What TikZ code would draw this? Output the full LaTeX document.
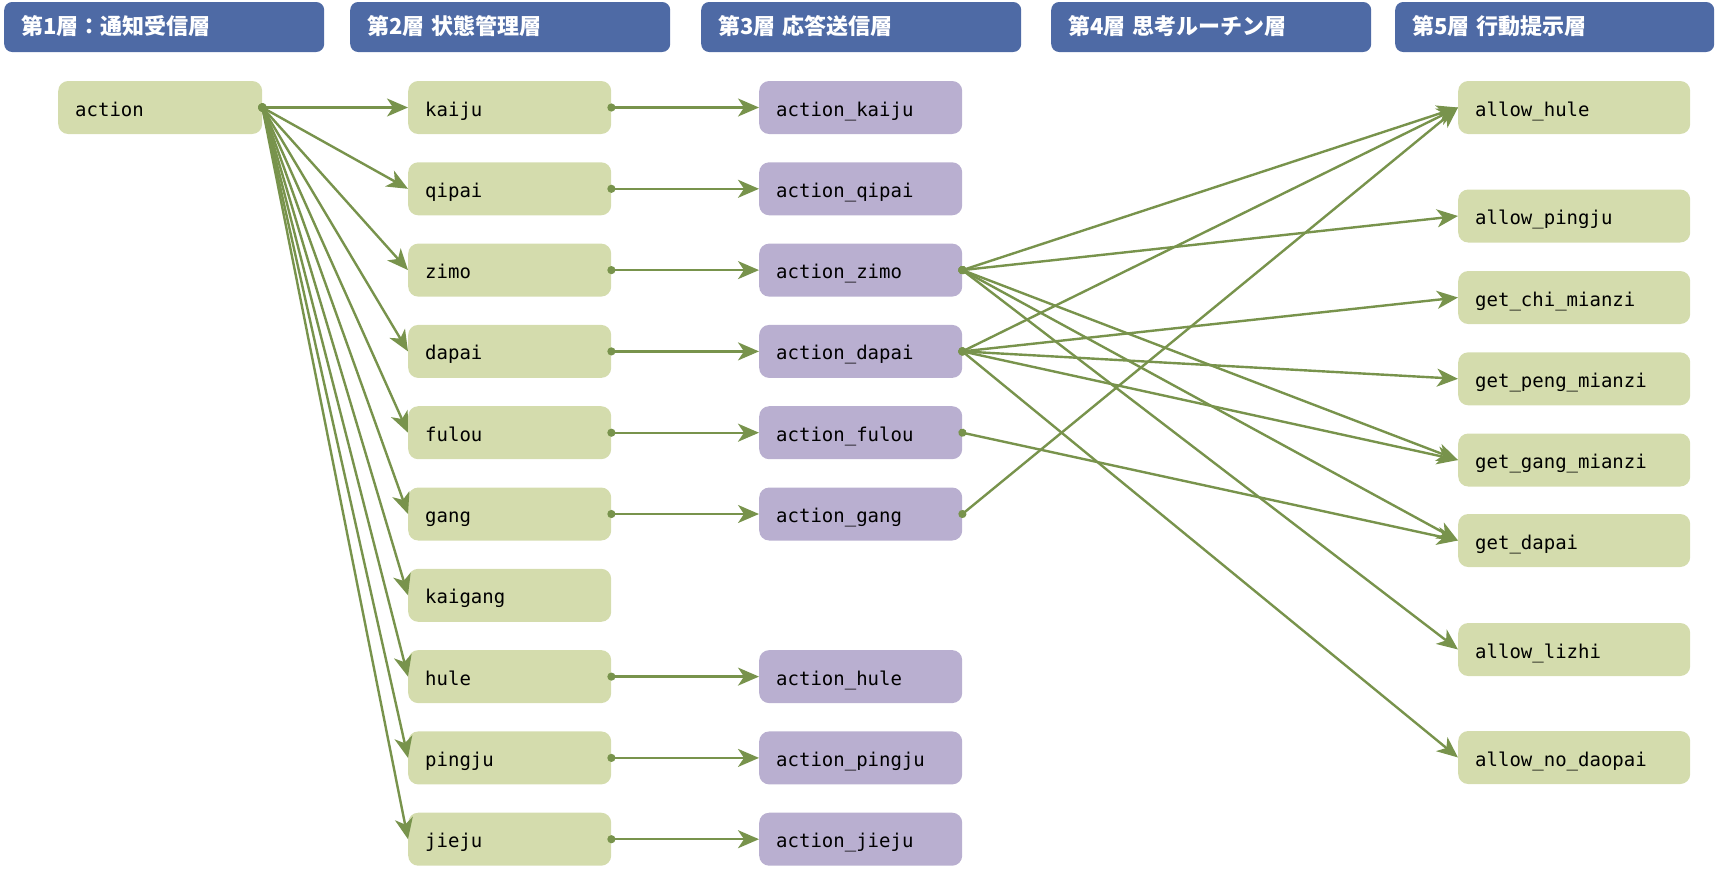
\documentclass[tikz,border=0pt]{standalone}
\usepackage{fontspec}
\setmonofont{DejaVu Sans Mono}
\newfontfamily\jpfont{Noto Sans CJK JP}
\usetikzlibrary{arrows.meta}
\definecolor{hdrblue}{RGB}{78,106,165}
\definecolor{boxgreen}{RGB}{212,220,173}
\definecolor{boxpurple}{RGB}{185,175,208}
\definecolor{linec}{RGB}{120,147,76}
\tikzset{
  hdr/.style={fill=hdrblue, rounded corners=8pt, anchor=west, minimum height=50pt,
    inner xsep=17pt, text=white, align=left, font=\jpfont\bfseries\fontsize{22}{26}\selectfont,
    text height=19pt, text depth=4pt},
  boxbase/.style={rounded corners=10pt, anchor=west, minimum height=53pt, inner xsep=17pt,
    align=left, font=\ttfamily\fontsize{19}{22}\selectfont, text height=21pt, text depth=4pt},
  gbox/.style={boxbase, fill=boxgreen},
  pbox/.style={boxbase, fill=boxpurple},
  edge/.style={draw=linec, line width=2.4pt,
    {Circle[length=8pt]}-{Stealth[length=21pt,width=18pt,inset=6pt]}, shorten <=-4pt},
}
\begin{document}
\begin{tikzpicture}[x=1pt,y=-1pt]
\useasboundingbox (0,0) rectangle (1722,868);
% headers
\node[hdr, text width=286pt] (h1) at (4,27) {第1層：通知受信層};
\node[hdr, text width=286pt] (h2) at (350,27) {第2層 状態管理層};
\node[hdr, text width=286pt] (h3) at (701,27) {第3層 応答送信層};
\node[hdr, text width=286pt] (h4) at (1051,27) {第4層 思考ルーチン層};
\node[hdr, text width=285pt] (h5) at (1395,27) {第5層 行動提示層};
% layer 1
\node[gbox, text width=170pt] (action) at (58,107.5) {action};
% layer 2
\foreach \n/\y in {kaiju/107.5, qipai/188.8, zimo/270.1, dapai/351.4, fulou/432.7,
                   gang/514, kaigang/595.3, hule/676.6, pingju/757.9, jieju/839.2}
  \node[gbox, text width=169pt] (\n) at (408,\y) {\n};
% layer 3
\foreach \n/\y in {kaiju/107.5, qipai/188.8, zimo/270.1, dapai/351.4, fulou/432.7,
                   gang/514, hule/676.6, pingju/757.9, jieju/839.2}
  \node[pbox, text width=169pt] (a\n) at (759,\y) {action\_\n};
% layer 5
\node[gbox, text width=198pt] (allowhule) at (1458,107.5) {allow\_hule};
\node[gbox, text width=198pt] (allowpingju) at (1458,216) {allow\_pingju};
\node[gbox, text width=198pt] (getchi) at (1458,297.5) {get\_chi\_mianzi};
\node[gbox, text width=198pt] (getpeng) at (1458,378.8) {get\_peng\_mianzi};
\node[gbox, text width=198pt] (getgang) at (1458,460) {get\_gang\_mianzi};
\node[gbox, text width=198pt] (getdapai) at (1458,540.5) {get\_dapai};
\node[gbox, text width=198pt] (allowlizhi) at (1458,649.5) {allow\_lizhi};
\node[gbox, text width=198pt] (allownodaopai) at (1458,757.5) {allow\_no\_daopai};
% edges layer1 -> layer2
\foreach \n in {kaiju,qipai,zimo,dapai,fulou,gang,kaigang,hule,pingju,jieju}
  \draw[edge] (action.east) -- (\n.west);
% edges layer2 -> layer3
\foreach \n in {kaiju,qipai,zimo,dapai,fulou,gang,hule,pingju,jieju}
  \draw[edge] (\n.east) -- (a\n.west);
% edges layer3 -> layer5
\foreach \t in {allowhule,allowpingju,getgang,getdapai,allowlizhi}
  \draw[edge] (azimo.east) -- (\t.west);
\foreach \t in {allowhule,getchi,getpeng,getgang,allownodaopai}
  \draw[edge] (adapai.east) -- (\t.west);
\draw[edge] (afulou.east) -- (getdapai.west);
\draw[edge] (agang.east) -- (allowhule.west);
\end{tikzpicture}
\end{document}
